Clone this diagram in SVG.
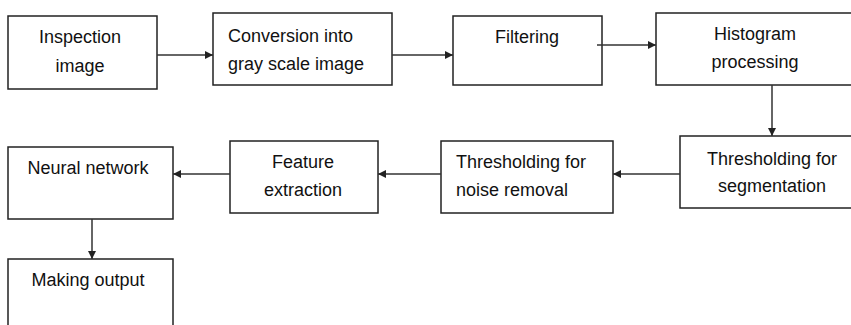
<svg xmlns="http://www.w3.org/2000/svg" width="851" height="325" viewBox="0 0 851 325">
<style>
.box{fill:#fff;stroke:#222;stroke-width:1.5}
.t{font-family:"Liberation Sans",Arial,sans-serif;font-size:18px;fill:#111}
.c{text-anchor:middle}
.ln{stroke:#333;stroke-width:1.5;fill:none;marker-end:url(#ah)}
</style>
<defs>
<marker id="ah" viewBox="0 0 10 10" refX="10" refY="5" markerWidth="9" markerHeight="8" markerUnits="userSpaceOnUse" orient="auto">
<path d="M0,0 L10,5 L0,10 z" fill="#222"/>
</marker>
</defs>
<rect width="851" height="325" fill="#fff"/>
<g id="n1"><rect class="box" x="8" y="16" width="149" height="73"/>
<text class="t c" x="80" y="43">Inspection</text><text class="t c" x="80" y="72">image</text></g>
<g id="n2"><rect class="box" x="213" y="13" width="179" height="72"/>
<text class="t" x="228" y="42">Conversion into</text><text class="t" x="228" y="70">gray scale image</text></g>
<g id="n3"><rect class="box" x="453" y="16" width="149" height="69"/>
<text class="t c" x="527" y="43">Filtering</text></g>
<g id="n4"><rect class="box" x="656" y="13" width="200" height="72"/>
<text class="t c" x="755" y="40">Histogram</text><text class="t c" x="755" y="68">processing</text></g>
<g id="n5"><rect class="box" x="680" y="136" width="176" height="72"/>
<text class="t c" x="772" y="165">Thresholding for</text><text class="t c" x="772" y="192">segmentation</text></g>
<g id="n6"><rect class="box" x="441" y="141" width="172" height="72"/>
<text class="t" x="456" y="168">Thresholding for</text><text class="t" x="456" y="196">noise removal</text></g>
<g id="n7"><rect class="box" x="230" y="141" width="148" height="72"/>
<text class="t c" x="303" y="168">Feature</text><text class="t c" x="303" y="196">extraction</text></g>
<g id="n8"><rect class="box" x="8" y="147" width="165" height="72"/>
<text class="t c" x="88" y="174">Neural network</text></g>
<g id="n9"><rect class="box" x="8" y="259" width="165" height="80"/>
<text class="t c" x="88" y="286">Making output</text></g>
<g id="connectors">
<line class="ln" x1="157" y1="55" x2="213" y2="55"/>
<line class="ln" x1="392" y1="55" x2="453" y2="55"/>
<line class="ln" x1="597" y1="45" x2="656" y2="45"/>
<line class="ln" x1="772" y1="85" x2="772" y2="136"/>
<line class="ln" x1="680" y1="174" x2="613" y2="174"/>
<line class="ln" x1="441" y1="174" x2="378" y2="174"/>
<line class="ln" x1="230" y1="174" x2="173" y2="174"/>
<line class="ln" x1="92" y1="219" x2="92" y2="259"/>
</g>
</svg>
